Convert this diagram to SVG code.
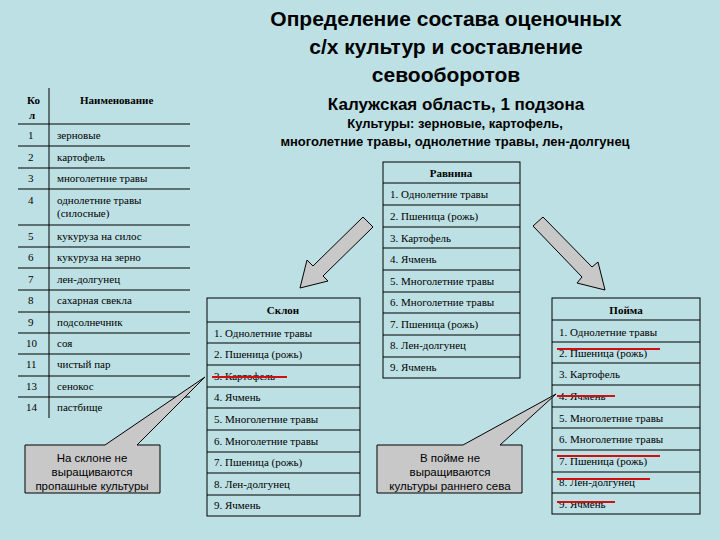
<svg xmlns="http://www.w3.org/2000/svg" width="720" height="540" viewBox="0 0 720 540">
<style>
.t{font-family:"Liberation Serif",serif;font-size:11px;fill:#000}
.b{font-weight:bold}
.s{font-family:"Liberation Sans",Arial,sans-serif;font-weight:bold;fill:#000;text-anchor:middle}
.c{font-family:"Liberation Sans",Arial,sans-serif;font-size:11.5px;fill:#000;text-anchor:middle}
.ln{stroke:#000;stroke-width:1;fill:none}
.box{fill:#bde0e4;stroke:#000;stroke-width:1}
.red{stroke:#d01010;stroke-width:2}
.gray{fill:#c8c8c8;stroke:#000;stroke-width:1}
</style>
<rect width="720" height="540" fill="#bde0e4"/>
<g id="title">
<text class="s" x="446" y="26" font-size="21">Определение состава оценочных</text>
<text class="s" x="446" y="54" font-size="21">с/х культур и составление</text>
<text class="s" x="446" y="82" font-size="21">севооборотов</text>
<text class="s" x="456" y="110" font-size="17">Калужская область, 1 подзона</text>
<text class="s" x="455" y="128" font-size="13">Культуры: зерновые, картофель,</text>
<text class="s" x="455" y="146" font-size="13">многолетние травы, однолетние травы, лен-долгунец</text>
</g>
<g id="legend">
<line class="ln" x1="49" y1="88" x2="49" y2="418"/>
<g class="ln">
<line x1="18" y1="124" x2="190" y2="124"/><line x1="18" y1="146" x2="190" y2="146"/><line x1="18" y1="168" x2="190" y2="168"/><line x1="18" y1="189" x2="190" y2="189"/><line x1="18" y1="225" x2="190" y2="225"/><line x1="18" y1="247" x2="190" y2="247"/><line x1="18" y1="268" x2="190" y2="268"/><line x1="18" y1="290" x2="190" y2="290"/><line x1="18" y1="312" x2="190" y2="312"/><line x1="18" y1="333" x2="190" y2="333"/><line x1="18" y1="354" x2="190" y2="354"/><line x1="18" y1="376" x2="190" y2="376"/><line x1="18" y1="397" x2="190" y2="397"/>
</g>
<text class="t b" x="27" y="104">Ко</text><text class="t b" x="29" y="119">л</text>
<text class="t b" x="80" y="104">Наименование</text>
<text class="t" x="28" y="139">1</text><text class="t" x="57" y="139">зерновые</text>
<text class="t" x="28" y="161">2</text><text class="t" x="57" y="161">картофель</text>
<text class="t" x="28" y="182">3</text><text class="t" x="57" y="182">многолетние травы</text>
<text class="t" x="28" y="204">4</text><text class="t" x="57" y="204">однолетние травы</text><text class="t" x="57" y="217">(силосные)</text>
<text class="t" x="28" y="240">5</text><text class="t" x="57" y="240">кукуруза на силос</text>
<text class="t" x="28" y="261">6</text><text class="t" x="57" y="261">кукуруза на зерно</text>
<text class="t" x="28" y="283">7</text><text class="t" x="57" y="283">лен-долгунец</text>
<text class="t" x="28" y="304">8</text><text class="t" x="57" y="304">сахарная свекла</text>
<text class="t" x="28" y="326">9</text><text class="t" x="57" y="326">подсолнечник</text>
<text class="t" x="26" y="347">10</text><text class="t" x="57" y="347">соя</text>
<text class="t" x="26" y="368">11</text><text class="t" x="57" y="368">чистый пар</text>
<text class="t" x="26" y="390">13</text><text class="t" x="57" y="390">сенокос</text>
<text class="t" x="26" y="411">14</text><text class="t" x="57" y="411">пастбище</text>
</g>
<g id="connectors">
<polygon class="gray" points="363,217 313,266 307,260 300,288 328,281 323,276 373,227"/>
<polygon class="gray" points="543,217 592,267 598,262 605,290 577,283 582,277 533,226"/>
</g>
<g id="ravnina">
<rect class="box" x="383" y="162" width="137" height="216"/>
<g class="ln"><line x1="383" y1="183" x2="520" y2="183"/><line x1="383" y1="205" x2="520" y2="205"/><line x1="383" y1="227" x2="520" y2="227"/><line x1="383" y1="248" x2="520" y2="248"/><line x1="383" y1="270" x2="520" y2="270"/><line x1="383" y1="292" x2="520" y2="292"/><line x1="383" y1="313" x2="520" y2="313"/><line x1="383" y1="335" x2="520" y2="335"/><line x1="383" y1="357" x2="520" y2="357"/></g>
<text class="t b" x="451" y="177" text-anchor="middle">Равнина</text>
<text class="t" x="390" y="198">1. Однолетние травы</text>
<text class="t" x="390" y="220">2. Пшеница (рожь)</text>
<text class="t" x="390" y="242">3. Картофель</text>
<text class="t" x="390" y="263">4. Ячмень</text>
<text class="t" x="390" y="285">5. Многолетние травы</text>
<text class="t" x="390" y="306">6. Многолетние травы</text>
<text class="t" x="390" y="328">7. Пшеница (рожь)</text>
<text class="t" x="390" y="349">8. Лен-долгунец</text>
<text class="t" x="390" y="371">9. Ячмень</text>
</g>
<g id="sklon">
<rect class="box" x="207" y="298" width="153" height="218"/>
<g class="ln"><line x1="207" y1="322" x2="360" y2="322"/><line x1="207" y1="343" x2="360" y2="343"/><line x1="207" y1="365" x2="360" y2="365"/><line x1="207" y1="387" x2="360" y2="387"/><line x1="207" y1="408" x2="360" y2="408"/><line x1="207" y1="430" x2="360" y2="430"/><line x1="207" y1="452" x2="360" y2="452"/><line x1="207" y1="473" x2="360" y2="473"/><line x1="207" y1="495" x2="360" y2="495"/></g>
<text class="t b" x="283" y="314" text-anchor="middle">Склон</text>
<text class="t" x="214" y="337">1. Однолетние травы</text>
<text class="t" x="214" y="358">2. Пшеница (рожь)</text>
<text class="t" x="214" y="380">3. Картофель</text>
<text class="t" x="214" y="401">4. Ячмень</text>
<text class="t" x="214" y="423">5. Многолетние травы</text>
<text class="t" x="214" y="445">6. Многолетние травы</text>
<text class="t" x="214" y="466">7. Пшеница (рожь)</text>
<text class="t" x="214" y="488">8. Лен-долгунец</text>
<text class="t" x="214" y="509">9. Ячмень</text>
<line class="red" x1="212" y1="377" x2="287" y2="377"/>
</g>
<g id="poyma">
<rect class="box" x="552" y="298" width="148" height="216"/>
<g class="ln"><line x1="552" y1="320" x2="700" y2="320"/><line x1="552" y1="342" x2="700" y2="342"/><line x1="552" y1="363" x2="700" y2="363"/><line x1="552" y1="385" x2="700" y2="385"/><line x1="552" y1="407" x2="700" y2="407"/><line x1="552" y1="428" x2="700" y2="428"/><line x1="552" y1="450" x2="700" y2="450"/><line x1="552" y1="472" x2="700" y2="472"/><line x1="552" y1="493" x2="700" y2="493"/></g>
<text class="t b" x="626" y="314" text-anchor="middle">Пойма</text>
<text class="t" x="559" y="336">1. Однолетние травы</text>
<text class="t" x="559" y="357">2. Пшеница (рожь)</text>
<text class="t" x="559" y="378">3. Картофель</text>
<text class="t" x="559" y="400">4. Ячмень</text>
<text class="t" x="559" y="422">5. Многолетние травы</text>
<text class="t" x="559" y="443">6. Многолетние травы</text>
<text class="t" x="559" y="465">7. Пшеница (рожь)</text>
<text class="t" x="559" y="486">8. Лен-долгунец</text>
<text class="t" x="559" y="508">9. Ячмень</text>
<g class="red"><line x1="557" y1="349" x2="660" y2="349"/><line x1="557" y1="396" x2="615" y2="396"/><line x1="557" y1="456" x2="660" y2="456"/><line x1="557" y1="479" x2="650" y2="479"/><line x1="557" y1="502" x2="615" y2="502"/></g>
</g>
<g id="callout-sklon">
<polygon class="gray" points="25,445 105,445 205,377 137,445 160,445 160,493 25,493"/>
<text class="c" x="92" y="462">На склоне не</text>
<text class="c" x="92" y="476">выращиваются</text>
<text class="c" x="92" y="490">пропашные культуры</text>
</g>
<g id="callout-poyma">
<polygon class="gray" points="377,445 463,445 556,394 500,445 522,445 522,493 377,493"/>
<text class="c" x="450" y="462">В пойме не</text>
<text class="c" x="450" y="476">выращиваются</text>
<text class="c" x="450" y="490">культуры раннего сева</text>
</g>
</svg>
